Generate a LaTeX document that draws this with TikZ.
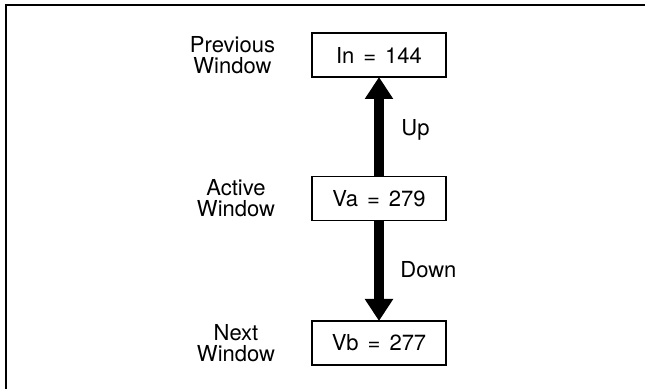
\documentclass[tikz,border=0pt]{standalone}
\usepackage{fontspec}
\setmainfont{TeX Gyre Heros}
\usetikzlibrary{arrows.meta,positioning}
\newcommand\winboxfont{\fontsize{11}{10.5}\selectfont\spaceskip 4.5pt\relax}
\tikzset{
  winbox/.style={draw, line width=0.6pt, minimum width=67pt, minimum height=22pt, inner sep=0pt,
    font=\winboxfont},
  winlabel/.style={align=center, inner sep=0pt},
  bigarrow/.style={line width=5pt, -{Triangle[width=13.5pt,length=11pt]}, shorten >=-0.3pt}
}
\begin{document}
\begin{tikzpicture}[x=0.5pt, y=-0.5pt, font=\fontsize{11}{10.5}\selectfont, line join=miter]
  \useasboundingbox (0,0) rectangle (645,389);
  \def \bx{379} % centre of the boxes
  % frame
  \draw[line width=1pt] (6,389)--(6,5)--(645,5);
  % windows
  \node[winbox] (in) at (\bx,55) {In = 144};
  \node[winbox] (va) at (\bx,198.5) {Va = 279};
  \node[winbox] (vb) at (\bx,343) {Vb = 277};
  \node[winlabel, left=18pt of in] (prev) {Previous\\Window};
  \node[winlabel, left=18pt of va] (act) {Active\\Window};
  \node[winlabel, left=18pt of vb] (next) {Next\\Window};
  % moves
  \draw[bigarrow] (va.north) -- (in.south);
  \draw[bigarrow] (va.south) -- (vb.north);
  \node[anchor=west, inner sep=0pt] (up) at (401,130) {Up};
  \node[anchor=west, inner sep=0pt] (down) at (400,270) {Down};
\end{tikzpicture}
\end{document}
